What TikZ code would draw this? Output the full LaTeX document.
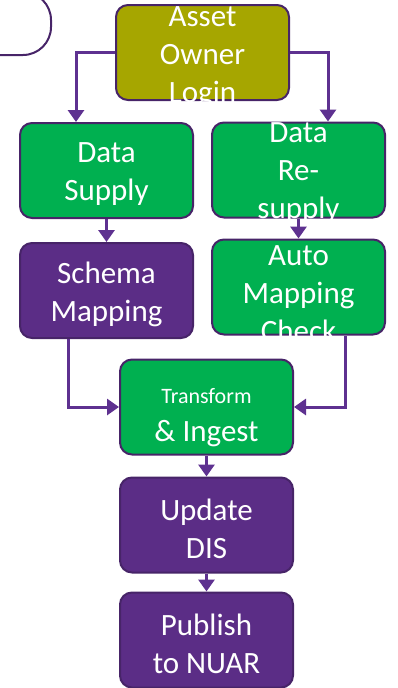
\documentclass[tikz,border=0pt]{standalone}
\usepackage{fontspec}
\setmainfont{Carlito}
\usetikzlibrary{arrows.meta}
\definecolor{olivefill}{HTML}{A6A600}
\definecolor{greenfill}{HTML}{00B050}
\definecolor{purplefill}{HTML}{5B2D86}
\definecolor{edge}{HTML}{472468}
\definecolor{flow}{HTML}{5E3190}
\tikzset{
  box/.style={draw=edge, line width=2pt, rounded corners=12pt,
    minimum width=173pt, minimum height=95pt, inner sep=0pt},
  olivebox/.style={box, fill=olivefill},
  greenbox/.style={box, fill=greenfill},
  purplebox/.style={box, fill=purplefill},
  txt/.style={text=white, align=center, inner sep=0pt,
    font=\fontsize{31pt}{38pt}\selectfont},
  flowline/.style={draw=flow, line width=3pt,
    -{Triangle[length=12pt,width=16pt]}},
}
% text that is cut off at the lower edge of its box
\newcommand{\cuttext}[3]{%
  \begin{scope}
    \clip ([yshift=12pt]#1.north west) rectangle (#1.south east);
    \node[txt] at ([yshift=#2]#1.center) {#3};
  \end{scope}}
\begin{document}
\begin{tikzpicture}[x=1pt,y=-1pt]
\useasboundingbox (0,0) rectangle (398,688);
% clipped outline in the upper left corner
\begin{scope}
  \clip (0,0) rectangle (398,688);
  \draw[edge, line width=2pt, rounded corners=28pt] (-60,-8) rectangle (51,55);
\end{scope}

\node[olivebox]  (login)   at (202.5,52.5) {};
\node[greenbox]  (supply)  at (106.5,170.5) {};
\node[greenbox]  (resupply) at (298.5,170) {};
\node[purplebox] (schema)  at (106.5,290.5) {};
\node[greenbox]  (auto)    at (298.5,287) {};
\node[greenbox]  (ingest)  at (206.5,407) {};
\node[purplebox] (dis)     at (206.5,525) {};
\node[purplebox] (nuar)    at (206.5,640) {};

\cuttext{login}{-5pt}{Asset\\Owner\\Login}
\node[txt] at ([yshift=-4pt]supply.center) {Data\\Supply};
\cuttext{resupply}{-3pt}{Data\\Re-\\supply}
\node[txt] at ([yshift=-4pt]schema.center) {Schema\\Mapping};
\cuttext{auto}{-7pt}{Auto\\Mapping\\Check}
\node[txt] at ([yshift=-11pt]ingest.center) {{\fontsize{22pt}{38pt}\selectfont Transform}\\\& Ingest};
\node[txt] at ([yshift=-4pt]dis.center) {Update\\DIS};
\node[txt] at ([yshift=-4pt]nuar.center) {Publish\\to NUAR};

% connectors
\draw[flowline] (login.west) -| (supply.north -| 76,0);
\draw[flowline] (login.east) -| (resupply.north -| 328,0);
\draw[flowline] (supply.south) -- (schema.north);
\draw[flowline] (resupply.south) -- (auto.north);
\draw[flowline] (schema.south -| 68,0) |- (ingest.west);
\draw[flowline] (auto.south -| 345,0) |- (ingest.east);
\draw[flowline] (ingest.south) -- (dis.north);
\draw[flowline] (dis.south) -- (nuar.north);
\end{tikzpicture}
\end{document}
